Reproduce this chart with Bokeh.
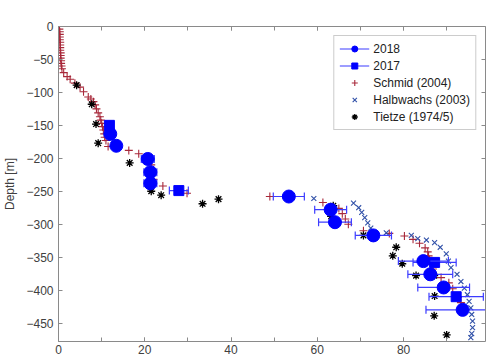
import numpy as np
from bokeh.plotting import figure
from bokeh.models import LinearAxis, SingleIntervalTicker, Range1d, Legend, LegendItem
from bokeh.embed import file_html
from bokeh.resources import INLINE

# ---------------- data ----------------
schmid_x = [0.2, 0.2, 0.3, 0.3, 0.3, 0.3, 0.4, 0.4, 0.4, 0.4, 0.5, 0.5, 0.5, 0.6, 0.6, 0.7, 0.8,
            1.2, 2.0, 2.7, 3.8, 5.0, 5.8, 6.9, 7.5, 8.1, 8.5, 8.8, 9.2, 9.6, 9.8, 10.0, 10.2, 10.4,
            10.6, 10.7, 11.0, 11.5, 16.3, 18.6, 21.2, 21.5, 21.6, 22.0, 24.2, 29.8, 49.0, 61.3,
            65.0, 65.8, 66.5, 67.2, 70.7, 76.7, 80.2, 82.2, 83.7, 85.0, 85.6, 85.8, 86.0, 86.4,
            86.8, 88.7, 90.5, 91.4, 92.6, 93.3]
schmid_d = [0, -4, -8, -12, -16, -20, -24, -28, -32, -36, -40, -44, -48, -52, -56, -60, -64,
            -70, -76, -80, -86, -92, -99, -107, -110, -114, -119, -125, -131, -137, -142, -147, -152, -157,
            -163, -168, -173, -182, -188, -193, -200, -210, -222, -232, -242, -253, -258, -267,
            -276, -284, -292, -300, -310, -314, -318, -323, -329, -336, -342, -348, -354, -361,
            -368, -381, -389, -398, -411, -419]

halb_x = [59.2, 68.4, 69.6, 70.3, 71.0, 71.7, 72.4, 76.0, 81.8, 83.3, 85.3, 87.2, 88.5, 89.9,
          90.4, 91.0, 92.4, 93.3, 94.1, 94.8, 95.2, 95.6, 95.8, 96.0, 96.0, 95.8, 95.6]
halb_d = [-261, -268, -275, -282, -290, -298, -306, -313, -317, -322, -324, -328, -335, -345,
          -356, -366, -376, -387, -397, -407, -417, -427, -437, -447, -457, -466, -472]

tietze_x = [4.2, 7.7, 8.7, 9.2, 16.5, 21.3, 21.3, 21.5, 23.8, 33.4, 37.1, 63.7, 63.2, 70.7,
            73.3, 78.3, 77.5, 79.7, 82.9, 87.1, 87.2, 87.1, 90.0]
tietze_d = [-89, -118, -148, -177, -207, -223, -239, -250, -256, -269, -262, -272, -288, -317,
            -320, -335, -348, -360, -378, -378, -409, -439, -468]

y2018_x = [12.0, 13.4, 20.7, 21.3, 21.3, 53.4, 63.1, 64.1, 73.0, 84.6, 86.2, 89.3, 93.7]
y2018_d = [-163, -181, -201, -221, -238, -258, -278, -297, -317, -356, -376, -396, -430]
y2018_e = [0.8, 0.8, 1.5, 1.5, 1.5, 3.6, 3.7, 3.8, 4.2, 5.8, 5.2, 6.0, 8.5]

y2017_x = [11.8, 27.9, 87.2, 92.2]
y2017_d = [-150, -249, -358, -410]
y2017_e = [0.8, 2.2, 5.0, 6.3]

x_ticks = [0, 20, 40, 60, 80]
y_ticks = [0, -50, -100, -150, -200, -250, -300, -350, -400, -450]

# ---------------- figure ----------------
FONT = "Liberation Sans"
AX_COL = "#8a8a8a"
TXT_COL = "#404040"

p = figure(width=486, height=356, output_backend="svg", toolbar_location=None,
           x_range=Range1d(0, 99), y_range=Range1d(-478, 0),
           min_border_left=55, min_border_top=26, min_border_right=1, min_border_bottom=0,
           background_fill_color="white", border_fill_color="white")
p.outline_line_color = None
p.grid.visible = False


def style_axis(ax, labels=True):
    ax.axis_line_color = AX_COL
    ax.major_tick_line_color = AX_COL
    ax.minor_tick_line_color = AX_COL
    ax.major_tick_in = 4
    ax.major_tick_out = 0
    ax.minor_tick_in = 4
    ax.minor_tick_out = 0
    ax.major_label_text_font = FONT
    if labels:
        ax.major_label_text_font_size = "12px"
        ax.major_label_text_color = TXT_COL
    else:
        ax.major_label_text_font_size = "1px"
        ax.major_label_text_color = None
        ax.major_label_standoff = 0


p.xaxis.ticker = SingleIntervalTicker(interval=20, num_minor_ticks=2)
p.yaxis.ticker = SingleIntervalTicker(interval=50, num_minor_ticks=0)
style_axis(p.xaxis[0])
style_axis(p.yaxis[0])
p.xaxis.major_label_standoff = 3
p.yaxis.major_label_standoff = 5
p.yaxis.axis_label = "Depth [m]"
p.yaxis.axis_label_text_font = FONT
p.yaxis.axis_label_text_font_size = "12px"
p.yaxis.axis_label_text_font_style = "normal"
p.yaxis.axis_label_text_color = TXT_COL
p.yaxis.axis_label_standoff = 6

top = LinearAxis(ticker=SingleIntervalTicker(interval=20, num_minor_ticks=2))
style_axis(top, labels=False)
p.add_layout(top, "above")
right = LinearAxis(ticker=SingleIntervalTicker(interval=50, num_minor_ticks=0))
style_axis(right, labels=False)
p.add_layout(right, "right")

BLUE = "#0000ff"
EBLUE = "#3c3cff"
RED = "#a8283a"
HBLUE = "#3050a8"

# Schmid
r_s = p.scatter(schmid_x, schmid_d, marker="cross", size=8, line_color=RED, line_width=1.1)
# Halbwachs
r_h = p.scatter(halb_x, halb_d, marker="x", size=7, line_color=HBLUE, line_width=1.1)
# Tietze
r_t = p.scatter(tietze_x, tietze_d, marker="asterisk", size=8, line_color="black", line_width=1.3)


def errbars(xs, ds, es):
    x0 = [x - e for x, e in zip(xs, es)]
    x1 = [x + e for x, e in zip(xs, es)]
    seg = p.segment(x0=x0, y0=ds, x1=x1, y1=ds, line_color=EBLUE, line_width=1.2)
    p.scatter(x0 + x1, ds + ds, marker="dash", angle=np.pi / 2, size=8,
              line_color=EBLUE, line_width=1.2)
    return seg


seg17 = errbars(y2017_x, y2017_d, y2017_e)
r17 = p.scatter(y2017_x, y2017_d, marker="square", size=10, fill_color=BLUE, line_color=BLUE)
seg18 = errbars(y2018_x, y2018_d, y2018_e)
r18 = p.scatter(y2018_x, y2018_d, marker="circle", size=13, fill_color=BLUE, line_color=BLUE)

legend = Legend(items=[
    LegendItem(label="2018", renderers=[seg18, r18]),
    LegendItem(label="2017", renderers=[seg17, r17]),
    LegendItem(label="Schmid (2004)", renderers=[r_s]),
    LegendItem(label="Halbwachs (2003)", renderers=[r_h]),
    LegendItem(label="Tietze (1974/5)", renderers=[r_t]),
], location="top_right")
legend.margin = 9
legend.padding = 5
legend.spacing = 2
legend.glyph_height = 15
legend.glyph_width = 30
legend.label_height = 15
legend.label_standoff = 4
legend.label_text_font = FONT
legend.label_text_font_size = "12px"
legend.label_text_color = "#222222"
legend.border_line_color = "#999999"
legend.border_line_width = 1
legend.background_fill_color = "white"
legend.background_fill_alpha = 1
p.add_layout(legend, "center")

open("out.html", "w").write(file_html(p, INLINE))
